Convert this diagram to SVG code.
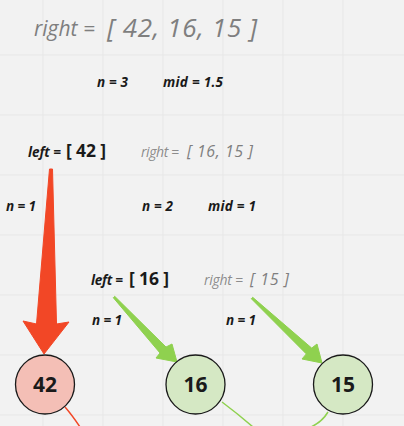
<svg xmlns="http://www.w3.org/2000/svg" width="404" height="426" viewBox="0 0 404 426">
<style>
.grid line{stroke:#e7e7e7;stroke-width:1}
.g{font-family:"Open Sans","Liberation Sans",sans-serif;font-style:italic;fill:#7f7f7f}
.b{font-family:"Open Sans","Liberation Sans",sans-serif;font-style:italic;font-weight:700;fill:#1a1a1a;font-size:13.5px}
.k{font-family:"Open Sans","Liberation Sans",sans-serif;font-weight:700;fill:#1a1a1a}
.node circle{stroke:#1a1a1a;stroke-width:1.3}
.node text{font-family:"Open Sans","Liberation Sans",sans-serif;font-weight:700;font-size:21px;fill:#1a1a1a;text-anchor:middle}
.red{fill:#f24726;stroke:#f24726;stroke-linejoin:round;stroke-width:1}
.grn{fill:#8fd14f;stroke:#8fd14f;stroke-linejoin:round;stroke-width:1}
</style>
<rect width="404" height="426" fill="#f2f2f2"/>
<g class="grid">
<line x1="43" y1="0" x2="43" y2="426"/><line x1="103" y1="0" x2="103" y2="426"/><line x1="163" y1="0" x2="163" y2="426"/><line x1="223" y1="0" x2="223" y2="426"/><line x1="283" y1="0" x2="283" y2="426"/><line x1="343" y1="0" x2="343" y2="426"/>
<line x1="0" y1="55" x2="404" y2="55"/><line x1="0" y1="115" x2="404" y2="115"/><line x1="0" y1="175" x2="404" y2="175"/><line x1="0" y1="235" x2="404" y2="235"/><line x1="0" y1="295" x2="404" y2="295"/><line x1="0" y1="355" x2="404" y2="355"/><line x1="0" y1="415" x2="404" y2="415"/>
</g>
<g id="labels">
<text class="g" x="34" y="36" font-size="21">right =</text>
<text class="g" x="107" y="37" font-size="26" textLength="150">[ 42, 16, 15 ]</text>
<text class="b" x="97" y="87" textLength="31">n = 3</text>
<text class="b" x="163" y="87" textLength="60">mid = 1.5</text>
<text class="b" x="28" y="157" textLength="33">left =</text>
<text class="k" x="66" y="157" font-size="17.5" textLength="40">[ 42 ]</text>
<text class="g" x="141" y="157" font-size="14" fill-opacity="0.9" textLength="38">right =</text>
<text class="g" x="187" y="157" font-size="16" textLength="66">[ 16, 15 ]</text>
<text class="b" x="6" y="211" textLength="30">n = 1</text>
<text class="b" x="142" y="211" textLength="31">n = 2</text>
<text class="b" x="208" y="211" textLength="48">mid = 1</text>
<text class="b" x="91" y="285" textLength="32">left =</text>
<text class="k" x="129" y="285" font-size="17.5" textLength="40">[ 16 ]</text>
<text class="g" x="204" y="285" font-size="14" fill-opacity="0.9" textLength="39">right =</text>
<text class="g" x="250" y="285" font-size="16" textLength="39">[ 15 ]</text>
<text class="b" x="92" y="325" textLength="30">n = 1</text>
<text class="b" x="226" y="325" textLength="30">n = 1</text>
</g>
<g id="connectors">
<polygon class="red" points="49.5,169 52.5,169 56.5,324 69,322 44,354 23,321 36.5,324"/>
<polygon class="grn" points="113.3,297.7 114.7,296.3 166,347 172,344 177,362 156,358 160,353"/>
<polygon class="grn" points="251.3,298.7 252.7,297.3 311.7,348.1 317,344 322,363 302,359 306.3,353.9"/>
<path d="M65,407 Q72,415 80,427" fill="none" stroke="#f24726" stroke-width="1.5"/>
<path d="M222,402 Q238,414 253,427" fill="none" stroke="#8fd14f" stroke-width="1.5"/>
<path d="M328,412 Q322,422 311,427" fill="none" stroke="#8fd14f" stroke-width="1.5"/>
</g>
<g id="node-42" class="node"><circle cx="45" cy="384.5" r="29.5" fill="#f4bfb6"/><text x="45" y="392">42</text></g>
<g id="node-16" class="node"><circle cx="195.5" cy="384.5" r="29.5" fill="#d5e8c4"/><text x="195.5" y="392">16</text></g>
<g id="node-15" class="node"><circle cx="343" cy="384.5" r="29.5" fill="#d5e8c4"/><text x="343" y="392">15</text></g>
</svg>
